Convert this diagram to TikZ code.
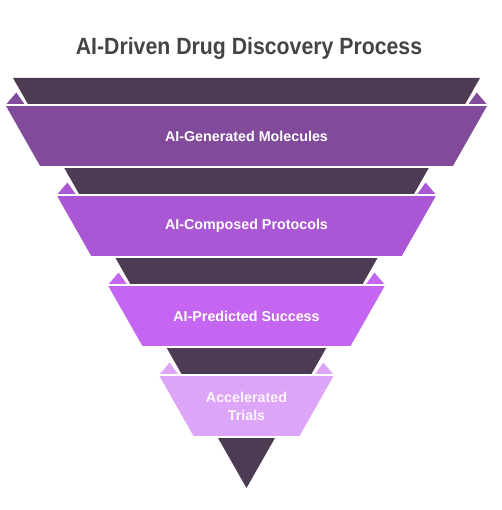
\documentclass[tikz,border=0pt]{standalone}
\usepackage{fontspec}
\setmainfont{Liberation Sans}
\newfontfamily\titlefont[FakeStretch=0.905]{Liberation Sans}

\definecolor{bandDark}{HTML}{4D3B53}
\definecolor{bandOne}{HTML}{814A9B}
\definecolor{bandTwo}{HTML}{AA57D6}
\definecolor{bandThree}{HTML}{C466F2}
\definecolor{bandFour}{HTML}{DDA5F7}
\definecolor{titleGray}{HTML}{444444}

\tikzstyle{funnelPart}=[draw=white,line width=1.6pt,line join=miter]
\tikzstyle{stageLabel}=[text=white,font=\bfseries\fontsize{14.3}{18}\selectfont,align=center,inner sep=0pt]

% edges of the funnel at height y
\newcommand{\lx}[1]{(13+(#1-78)*0.5683)}
\newcommand{\rx}[1]{(480-(#1-78)*0.5683)}

\begin{document}
\begin{tikzpicture}[x=1pt,y=-1pt]
        \useasboundingbox (0,0) rectangle (501,510);

        % title
        \node[anchor=base,text=titleGray,font=\titlefont\bfseries\fontsize{23.5}{28}\selectfont,inner sep=0pt] (title) at (249,55) {AI-Driven Drug Discovery Process};

        % dark funnel behind
        \fill[bandDark] (13,78) -- (480,78) -- (246.5,488) -- cycle;

        % first stage
        \draw[funnelPart,fill=bandOne] ({\lx{105}-24},105) -- ({\lx{105}-2},105) -- ({\lx{105}-12},91) -- cycle;
        \draw[funnelPart,fill=bandOne] ({\rx{105}+24},105) -- ({\rx{105}+2},105) -- ({\rx{105}+12},91) -- cycle;
        \draw[funnelPart,fill=bandOne] ({\lx{105}-24},105) -- ({\rx{105}+24},105) -- ({\rx{167}+24},167) -- ({\lx{167}-24},167) -- cycle;
        \node[stageLabel] (s1) at (246.5,136) {AI-Generated Molecules};

        % second stage
        \draw[funnelPart,fill=bandTwo] ({\lx{195}-24},195) -- ({\lx{195}-2},195) -- ({\lx{195}-12},181) -- cycle;
        \draw[funnelPart,fill=bandTwo] ({\rx{195}+24},195) -- ({\rx{195}+2},195) -- ({\rx{195}+12},181) -- cycle;
        \draw[funnelPart,fill=bandTwo] ({\lx{195}-24},195) -- ({\rx{195}+24},195) -- ({\rx{257}+24},257) -- ({\lx{257}-24},257) -- cycle;
        \node[stageLabel] (s2) at (246.5,226) {AI-Composed Protocols};

        % third stage
        \draw[funnelPart,fill=bandThree] ({\lx{285}-24},285) -- ({\lx{285}-2},285) -- ({\lx{285}-12},271) -- cycle;
        \draw[funnelPart,fill=bandThree] ({\rx{285}+24},285) -- ({\rx{285}+2},285) -- ({\rx{285}+12},271) -- cycle;
        \draw[funnelPart,fill=bandThree] ({\lx{285}-24},285) -- ({\rx{285}+24},285) -- ({\rx{347}+24},347) -- ({\lx{347}-24},347) -- cycle;
        \node[stageLabel] (s3) at (246.5,316) {AI-Predicted Success};

        % fourth stage
        \draw[funnelPart,fill=bandFour] ({\lx{375}-24},375) -- ({\lx{375}-2},375) -- ({\lx{375}-12},361) -- cycle;
        \draw[funnelPart,fill=bandFour] ({\rx{375}+24},375) -- ({\rx{375}+2},375) -- ({\rx{375}+12},361) -- cycle;
        \draw[funnelPart,fill=bandFour] ({\lx{375}-24},375) -- ({\rx{375}+24},375) -- ({\rx{437}+24},437) -- ({\lx{437}-24},437) -- cycle;
        \node[stageLabel,text=white!90!bandFour] (s4) at (246.5,406) {Accelerated\\Trials};
    \end{tikzpicture}
\end{document}
